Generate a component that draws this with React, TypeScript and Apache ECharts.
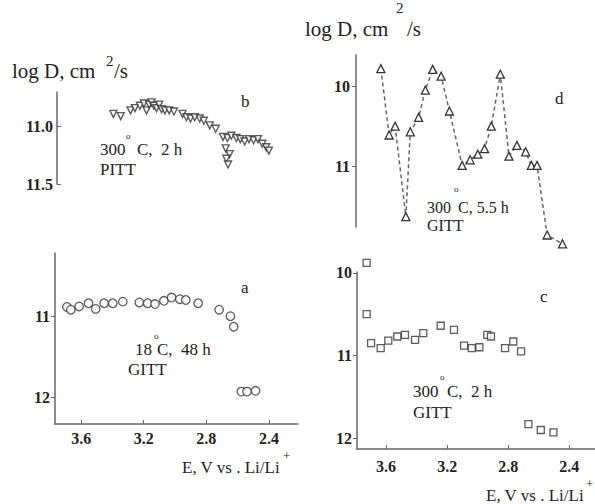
import React, { useEffect, useRef } from "react";
import * as echarts from "echarts";

// Panel a: 18 °C, 48 h, GITT (circles)
const aE = [3.691, 3.666, 3.613, 3.553, 3.507, 3.453, 3.398, 3.334, 3.228, 3.175, 3.128, 3.071, 3.022, 2.969, 2.931, 2.852, 2.718, 2.646, 2.625, 2.576, 2.54, 2.485];
const aLogD = [10.885, 10.92, 10.88, 10.84, 10.91, 10.84, 10.84, 10.82, 10.83, 10.84, 10.85, 10.81, 10.77, 10.79, 10.8, 10.84, 10.92, 11.0, 11.13, 11.93, 11.93, 11.92];

// Panel b: 300 °C, 2 h, PITT (down triangles)
const bE = [3.394, 3.347, 3.284, 3.256, 3.224, 3.199, 3.182, 3.165, 3.15, 3.135, 3.118, 3.101, 3.086, 3.065, 3.037, 3.007, 2.952, 2.927, 2.901, 2.874, 2.842, 2.816, 2.778, 2.74, 2.693, 2.665, 2.64, 2.608, 2.583, 2.555, 2.527, 2.498, 2.47, 2.442, 2.417, 2.4, 2.676, 2.651, 2.672, 2.661];
const bLogD = [10.89, 10.91, 10.86, 10.84, 10.82, 10.8, 10.86, 10.81, 10.79, 10.82, 10.84, 10.81, 10.85, 10.86, 10.86, 10.87, 10.89, 10.92, 10.93, 10.92, 10.93, 10.95, 10.99, 11.02, 11.09, 11.1, 11.08, 11.1, 11.11, 11.13, 11.11, 11.12, 11.11, 11.15, 11.18, 11.21, 11.19, 11.24, 11.28, 11.33];

// Panel c: 300 °C, 2 h, GITT (squares)
const cE = [3.727, 3.727, 3.698, 3.635, 3.585, 3.526, 3.476, 3.41, 3.356, 3.242, 3.155, 3.089, 3.039, 2.989, 2.937, 2.913, 2.821, 2.767, 2.716, 2.668, 2.587, 2.504];
const cLogD = [9.88, 10.5, 10.85, 10.91, 10.82, 10.77, 10.75, 10.81, 10.73, 10.64, 10.69, 10.88, 10.91, 10.9, 10.75, 10.77, 10.91, 10.83, 10.95, 11.83, 11.9, 11.93];

// Panel d: 300 °C, 5.5 h, GITT (triangles, dashed line)
const dE = [3.628, 3.574, 3.535, 3.465, 3.436, 3.382, 3.338, 3.29, 3.235, 3.181, 3.098, 3.046, 2.996, 2.952, 2.908, 2.849, 2.793, 2.741, 2.684, 2.647, 2.61, 2.544, 2.444];
const dLogD = [9.78, 10.61, 10.5, 11.63, 10.57, 10.39, 10.05, 9.79, 9.875, 10.31, 10.99, 10.92, 10.85, 10.78, 10.5, 9.85, 10.875, 10.74, 10.82, 10.99, 10.99, 11.86, 11.97];

const xTicks = [3.6, 3.2, 2.8, 2.4];
const aYTicks = [11, 12];
const bYTicks = [11.0, 11.5];
const cYTicks = [10, 11, 12];
const dYTicks = [10, 11];

const SERIF = "'Liberation Serif', 'DejaVu Serif', serif";
const INK = "#222";
const AXIS = "#666";
const MARK = "#333";

const pairs = (xs: number[], ys: number[]) => xs.map((x, i) => [x, ys[i]]);

export default function App() {
  const ref = useRef<HTMLDivElement>(null);
  useEffect(() => {
    if (!ref.current) return;
    const chart = echarts.init(ref.current, null, { renderer: "svg" });

    const xAxisBase = (gridIndex: number, min: number, max: number, show: boolean, margin: number) => ({
      type: "value",
      gridIndex,
      inverse: true,
      min,
      max,
      show,
      splitLine: { show: false },
      axisLine: { show: true, onZero: false, lineStyle: { color: AXIS, width: 1.5 } },
      axisTick: { show: true, inside: true, length: 4, customValues: xTicks, lineStyle: { color: AXIS } },
      axisLabel: {
        customValues: xTicks,
        margin,
        color: INK,
        fontFamily: SERIF,
        fontSize: 16,
        fontWeight: "bold",
        formatter: (v: number) => v.toFixed(1),
      },
    });

    const yAxisBase = (gridIndex: number, min: number, max: number, ticks: number[], dec: number, inside: boolean, margin: number) => ({
      type: "value",
      gridIndex,
      inverse: true,
      min,
      max,
      splitLine: { show: false },
      axisLine: { show: true, onZero: false, lineStyle: { color: AXIS, width: 1.5 } },
      axisTick: { show: true, inside, length: 4, customValues: ticks, lineStyle: { color: AXIS } },
      axisLabel: {
        customValues: ticks,
        margin,
        color: INK,
        fontFamily: SERIF,
        fontSize: 16,
        fontWeight: "bold",
        formatter: (v: number) => v.toFixed(dec),
      },
    });

    const txt = (text: string, x: number, baseline: number, size: number) => ({
      type: "text",
      x,
      y: baseline - 0.3 * size,
      silent: true,
      style: {
        text,
        fill: INK,
        font: `normal ${size}px ${SERIF}`,
        verticalAlign: "middle",
        align: "left",
      },
    });

    const option: any = {
      animation: false,
      backgroundColor: "#fff",
      grid: [
        { left: 55, top: 253, width: 243, height: 171 }, // a
        { left: 57, top: 92, width: 241, height: 92 }, // b
        { left: 357, top: 272, width: 238, height: 177 }, // c
        { left: 356, top: 55, width: 239, height: 172 }, // d
      ],
      xAxis: [
        xAxisBase(0, 2.214, 3.767, true, 6),
        xAxisBase(1, 2.214, 3.754, false, 6),
        xAxisBase(2, 2.232, 3.79, true, 9),
        xAxisBase(3, 2.232, 3.79, false, 9),
      ],
      yAxis: [
        yAxisBase(0, 10.22, 12.33, aYTicks, 0, false, 5),
        yAxisBase(1, 10.7, 11.5, bYTicks, 1, true, 4),
        yAxisBase(2, 9.99, 12.13, cYTicks, 0, false, 5),
        yAxisBase(3, 9.61, 11.76, dYTicks, 0, false, 6),
      ],
      series: [
        {
          type: "scatter",
          xAxisIndex: 0,
          yAxisIndex: 0,
          clip: false,
          symbol: "circle",
          symbolSize: 8.5,
          itemStyle: { color: "#fff", borderColor: MARK, borderWidth: 1.3 },
          data: pairs(aE, aLogD),
        },
        {
          type: "scatter",
          xAxisIndex: 1,
          yAxisIndex: 1,
          clip: false,
          symbol: "triangle",
          symbolRotate: 180,
          symbolSize: 7,
          itemStyle: { color: "#fff", borderColor: MARK, borderWidth: 1.4 },
          data: pairs(bE, bLogD),
        },
        {
          type: "scatter",
          xAxisIndex: 2,
          yAxisIndex: 2,
          clip: false,
          symbol: "rect",
          symbolSize: 7,
          itemStyle: { color: "#fff", borderColor: MARK, borderWidth: 1.3 },
          data: pairs(cE, cLogD),
        },
        {
          type: "line",
          xAxisIndex: 3,
          yAxisIndex: 3,
          clip: false,
          symbol: "triangle",
          symbolSize: 8,
          showAllSymbol: true,
          lineStyle: { color: "#666", width: 1.5, type: [4, 3] },
          itemStyle: { color: "#fff", borderColor: MARK, borderWidth: 1.3 },
          data: pairs(dE, dLogD),
        },
      ],
      graphic: [
        // top-left y title
        txt("log D, cm", 12, 77, 21),
        txt("2", 106, 65, 15),
        txt("/s", 114, 77, 21),
        // top-right y title
        txt("log D, cm", 305, 35, 21),
        txt("2", 396, 12, 15),
        txt("/s", 407, 35, 21),
        // panel b
        txt("b", 241, 107, 17),
        txt("300", 100, 155, 17),
        txt("o", 126, 139, 9),
        txt("C,  2 h", 137, 155, 17),
        txt("PITT", 100, 175, 17),
        // panel d
        txt("d", 555, 104, 17),
        txt("300", 427, 212, 16),
        txt("o", 454, 192, 9),
        txt("C, 5.5 h", 458, 212, 16),
        txt("GITT", 427, 230, 16),
        // panel a
        txt("a", 241, 293, 17),
        txt("18", 135, 355, 17),
        txt("o", 154, 339, 9),
        txt("C,  48 h", 157, 355, 17),
        txt("GITT", 128, 375, 17),
        txt("E, V vs . Li/Li", 182, 473, 17),
        txt("+", 283, 459, 13),
        // panel c
        txt("c", 540, 302, 17),
        txt("300", 413, 397, 17),
        txt("o", 440, 380, 9),
        txt("C,  2 h", 447, 397, 17),
        txt("GITT", 413, 418, 17),
        txt("E, V vs . Li/Li", 486, 501, 17),
        txt("+", 586, 487, 13),
      ],
    };
    chart.setOption(option);
    return () => chart.dispose();
  }, []);
  return (
    <div
      ref={ref}
      style={{ position: "fixed", left: 0, top: 0, width: 595, height: 504, background: "#fff" }}
    />
  );
}
